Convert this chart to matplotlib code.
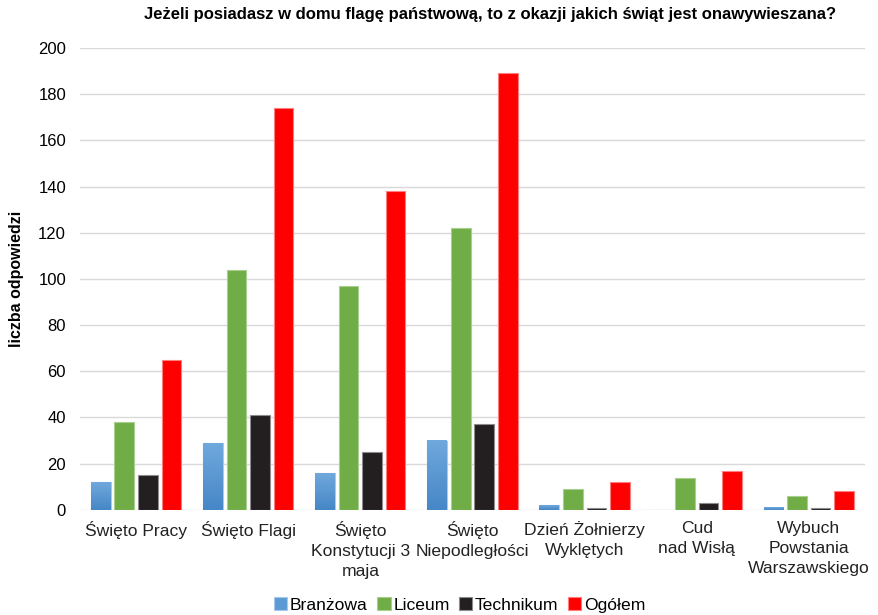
import matplotlib
matplotlib.use("Agg")
import matplotlib.pyplot as plt
import matplotlib.colors as mcolors
import numpy as np

plt.rcParams["font.family"] = ["Liberation Sans", "DejaVu Sans"]

categories = ["Święto Pracy", "Święto Flagi", "Święto\nKonstytucji 3\nmaja",
              "Święto\nNiepodległości", "Dzień Żołnierzy\nWyklętych",
              "Cud\nnad Wisłą", "Wybuch\nPowstania\nWarszawskiego"]
series = ["Branżowa", "Liceum", "Technikum", "Ogółem"]
branzowa = [12, 29, 16, 30, 2, 0, 1]
liceum = [38, 104, 97, 122, 9, 14, 6]
technikum = [15, 41, 25, 37, 1, 3, 1]
ogolem = [65, 174, 138, 189, 12, 17, 8]
values = [branzowa, liceum, technikum, ogolem]
colors = ["#5b9bd5", "#70ad47", "#231f20", "#ff0000"]
edges = ["#a9c8ea", "#a8d08d", "#8c8c8c", "#ff7f7f"]

fig = plt.figure(figsize=(8.79, 6.15), dpi=100)
ax = fig.add_axes([0.091, 0.171, 0.893, 0.751])

x = np.arange(len(categories))
slot = 0.21
width = 0.175
blue_grad = mcolors.LinearSegmentedColormap.from_list("bg", ["#4787c7", "#6fa8dc"])
for i, (vals, c, ec) in enumerate(zip(values, colors, edges)):
    pos = x + (i - 1.5) * slot
    bars = ax.bar(pos, vals, width, color=c, edgecolor=ec, linewidth=0.8,
                  label=series[i], zorder=3)
    if i == 0:
        # light-to-dark gradient fill for the first series
        for b in bars:
            h = b.get_height()
            if h <= 0:
                continue
            xs = b.get_x()
            ax.imshow(np.linspace(0, 1, 50).reshape(-1, 1), cmap=blue_grad,
                      extent=[xs, xs + width, 0, h], origin="lower",
                      aspect="auto", zorder=3.5)

ax.set_xlim(-0.5, len(categories) - 0.5)
ax.set_ylim(0, 200)
ax.set_yticks(range(0, 201, 20))
ax.tick_params(axis="y", length=0, labelsize=12, colors="#000000", pad=10)
ax.tick_params(axis="x", length=0, labelsize=12.6, pad=8)
ax.set_xticks(x)
ax.set_xticklabels(categories, linespacing=1.4, color="#222222")
ax.grid(axis="y", color="#d9d9d9", lw=1, zorder=0)
for side in ("top", "right", "left", "bottom"):
    ax.spines[side].set_visible(False)
ax.set_ylabel("liczba odpowiedzi", fontsize=11.5, fontweight="bold", labelpad=10)

fig.suptitle("Jeżeli posiadasz w domu flagę państwową, to z okazji jakich świąt jest onawywieszana?",
             x=0.557, y=0.988, fontsize=12, fontweight="bold")

handles, labels = ax.get_legend_handles_labels()
fig.legend(handles, labels, loc="lower center", bbox_to_anchor=(0.523, -0.022),
           ncol=4, frameon=False, fontsize=12.6, handlelength=0.75,
           handleheight=0.75, handletextpad=0.15, columnspacing=0.55)

fig.savefig("out.png", dpi=100)
